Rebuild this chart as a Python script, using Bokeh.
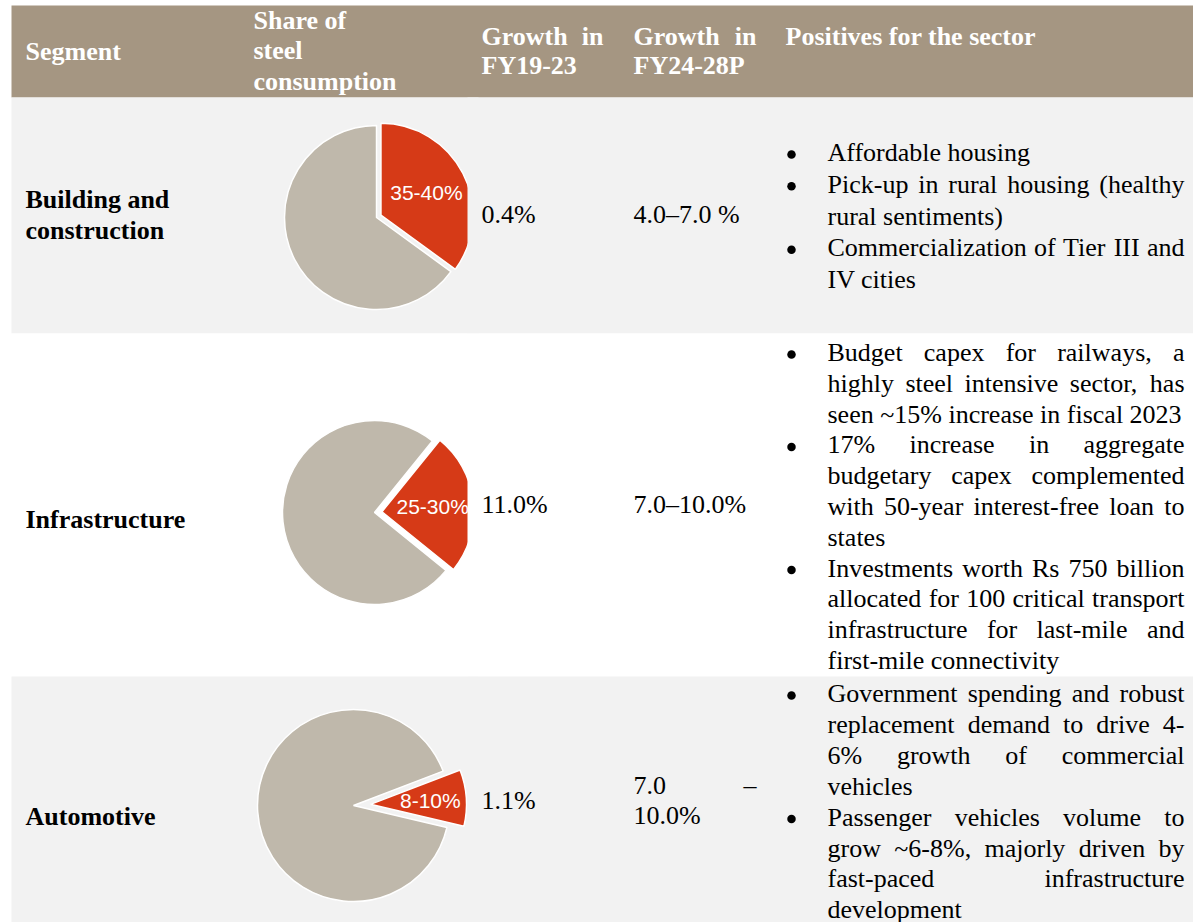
import math
from bokeh.plotting import figure
from bokeh.models import Range1d, ColumnDataSource
from bokeh.embed import file_html
from bokeh.resources import INLINE
from bokeh.core.properties import value

# ---------------- data ----------------
header_segment = ["Segment"]
header_share = ["Share of", "steel", "consumption"]
header_g1 = ["Growth in", "FY19-23"]
header_g2 = ["Growth in", "FY24-28P"]
header_pos = ["Positives for the sector"]

segments = [["Building and", "construction"], ["Infrastructure"], ["Automotive"]]
share_values = [35, 25, 9.5]
share_labels = ["35-40%", "25-30%", "8-10%"]
growth_fy19_23 = [["0.4%"], ["11.0%"], ["1.1%"]]
growth_fy24_28p = [["4.0–7.0 %"], ["7.0–10.0%"], ["7.0 –", "10.0%"]]

positives_building = [
    ["Affordable housing"],
    ["Pick-up in rural housing (healthy", "rural sentiments)"],
    ["Commercialization of Tier III and", "IV cities"],
]
positives_infra = [
    ["Budget capex for railways, a", "highly steel intensive sector, has",
     "seen ~15% increase in fiscal 2023"],
    ["17% increase in aggregate", "budgetary capex complemented",
     "with 50-year interest-free loan to", "states"],
    ["Investments worth Rs 750 billion", "allocated for 100 critical transport",
     "infrastructure for last-mile and", "first-mile connectivity"],
]
positives_auto = [
    ["Government spending and robust", "replacement demand to drive 4-",
     "6% growth of commercial", "vehicles"],
    ["Passenger vehicles volume to", "grow ~6-8%, majorly driven by",
     "fast-paced infrastructure", "development"],
]
positives = [positives_building, positives_infra, positives_auto]

# ---------------- styles / layout ----------------
HEADER_BG = "#A59682"
ROW_BG = ["#F2F2F2", "#FFFFFF", "#F2F2F2"]
RED = "#D63A17"
GREY = "#BFB8AB"
SERIF = "Liberation Serif"
SANS = "Liberation Sans"
FS = 26  # px

PAGE_W, PAGE_H = 1193, 922
def Y(py):
    return PAGE_H - py

header_band = (5, 97)
row_bands = [(97, 333), (333, 676), (676, 922)]
col_x = [25, 253, 481, 633, 785]
col_right = [230, 460, 603, 756, 1184]
bullet_x = 791
text_x0, text_x1 = 827, 1184

pie_center = [(376, 217), (374, 512), (353, 805)]
pie_radius = [92, 92, 96]
pie_start = [0, 39, 69]       # clockwise from 12 o'clock, degrees
pie_explode = [5, 7.5, 17]
pie_label_dist = [51, 51, 60]
pie_clip_x = 467

hdr_seg_base = [51]
hdr_share_base = [20, 50, 81]
hdr_g_base = [36, 65]
hdr_pos_base = [36]
seg_base = [[199, 230], [519], [816]]
g1_base = [[214], [504], [800]]
g2_base = [[214], [504], [785, 815]]
pos_first = [152, 352, 693]
pos_step = [31.75, 30.8, 30.9]

TNR = {' ': 250, '!': 333, '%': 833, '(': 333, ')': 333, ',': 250, '-': 333, '.': 250,
       ':': 278, '~': 541, '–': 500,
       'A': 722, 'B': 667, 'C': 667, 'D': 722, 'E': 611, 'F': 556, 'G': 722, 'H': 722,
       'I': 333, 'J': 389, 'K': 722, 'L': 611, 'M': 889, 'N': 722, 'O': 722, 'P': 556,
       'Q': 722, 'R': 667, 'S': 556, 'T': 611, 'U': 722, 'V': 722, 'W': 944, 'X': 722,
       'Y': 722, 'Z': 611,
       'a': 444, 'b': 500, 'c': 444, 'd': 500, 'e': 444, 'f': 333, 'g': 500, 'h': 500,
       'i': 278, 'j': 278, 'k': 500, 'l': 278, 'm': 778, 'n': 500, 'o': 500, 'p': 500,
       'q': 500, 'r': 333, 's': 389, 't': 278, 'u': 500, 'v': 500, 'w': 722, 'x': 500,
       'y': 500, 'z': 444}

def tw(s, size=FS):
    return sum(TNR.get(c, 500) for c in s) / 1000.0 * size

groups = {}
def add_text(x, y, t, align="left", style="normal", color="#000000"):
    key = (align, style, color)
    g = groups.setdefault(key, {"x": [], "y": [], "t": []})
    g["x"].append(x); g["y"].append(Y(y)); g["t"].append(t)

def paragraph(lines, x0, x1, baselines, style="normal", color="#000000", justify=True):
    for i, (line, b) in enumerate(zip(lines, baselines)):
        words = line.split(" ")
        last = (i == len(lines) - 1)
        if justify and not last and len(words) > 1:
            widths = [tw(w) for w in words]
            gap = (x1 - x0 - sum(widths)) / (len(words) - 1)
            x = x0
            for j, w in enumerate(words):
                if j == len(words) - 1:
                    add_text(x1, b, w, "right", style, color)
                else:
                    add_text(x, b, w, "left", style, color)
                x += widths[j] + gap
        else:
            add_text(x0, b, line, "left", style, color)

# ---------------- figure ----------------
p = figure(width=PAGE_W, height=PAGE_H, output_backend="svg", toolbar_location=None,
           x_range=Range1d(0, PAGE_W), y_range=Range1d(0, PAGE_H), min_border=0,
           background_fill_color="white", border_fill_color="white")
p.axis.visible = False
p.grid.visible = False
p.outline_line_color = None

# bands
p.quad(left=11, right=PAGE_W + 5, top=Y(header_band[0]), bottom=Y(header_band[1]),
       fill_color=HEADER_BG, line_color=None)
for (t, b), c in zip(row_bands, ROW_BG):
    p.quad(left=11, right=PAGE_W + 5, top=Y(t), bottom=Y(b), fill_color=c, line_color=None)

# pies
for i in range(3):
    cx, cy = pie_center[i]
    r = pie_radius[i]
    a0 = pie_start[i]
    a1 = a0 + share_values[i] * 3.6
    mid = math.radians((a0 + a1) / 2)
    ex = pie_explode[i]
    rx, ry = cx + ex * math.sin(mid), Y(cy) + ex * math.cos(mid)
    p.wedge(x=[cx], y=[Y(cy)], radius=r, start_angle=90 - a1, end_angle=90 - a0 - 360,
            start_angle_units="deg", end_angle_units="deg", direction="clock",
            fill_color=GREY, line_color="white", line_width=1.5)
    p.wedge(x=[rx], y=[ry], radius=r, start_angle=90 - a0, end_angle=90 - a1,
            start_angle_units="deg", end_angle_units="deg", direction="clock",
            fill_color=RED, line_color="white", line_width=1.5)
    d = pie_label_dist[i]
    p.text(x=[rx + d * math.sin(mid)], y=[ry + d * math.cos(mid)], text=[share_labels[i]],
           text_font=value(SANS), text_font_size=value("21px"), text_color="white",
           text_align="center", text_baseline="middle")
    t, b = row_bands[i]
    p.quad(left=pie_clip_x, right=478, top=Y(t), bottom=Y(b), fill_color=ROW_BG[i], line_color=None)

# header text
paragraph(header_segment, col_x[0], col_right[0], hdr_seg_base, "bold", "white", False)
paragraph(header_share, col_x[1], col_right[1], hdr_share_base, "bold", "white", False)
paragraph(header_g1, col_x[2], col_right[2], hdr_g_base, "bold", "white", True)
paragraph(header_g2, col_x[3], col_right[3], hdr_g_base, "bold", "white", True)
paragraph(header_pos, col_x[4], col_right[4], hdr_pos_base, "bold", "white", False)

# body rows
for i in range(3):
    paragraph(segments[i], col_x[0], col_right[0], seg_base[i], "bold", justify=False)
    paragraph(growth_fy19_23[i], col_x[2], col_right[2], g1_base[i])
    paragraph(growth_fy24_28p[i], col_x[3], col_right[3], g2_base[i])
    k = 0
    bx, by = [], []
    for para in positives[i]:
        bases = [pos_first[i] + pos_step[i] * (k + j) for j in range(len(para))]
        bx.append(bullet_x); by.append(Y(bases[0] + 2))
        paragraph(para, text_x0, text_x1, bases)
        k += len(para)
    p.scatter(x=bx, y=by, size=8.5, marker="circle", fill_color="black", line_color=None)

for (align, style, color), g in groups.items():
    p.text(x="x", y="y", text="t", source=ColumnDataSource(g),
           text_font=value(SERIF), text_font_size=value(f"{FS}px"), text_font_style=style,
           text_color=color, text_align=align, text_baseline="alphabetic")

open("out.html", "w").write(file_html(p, INLINE))
